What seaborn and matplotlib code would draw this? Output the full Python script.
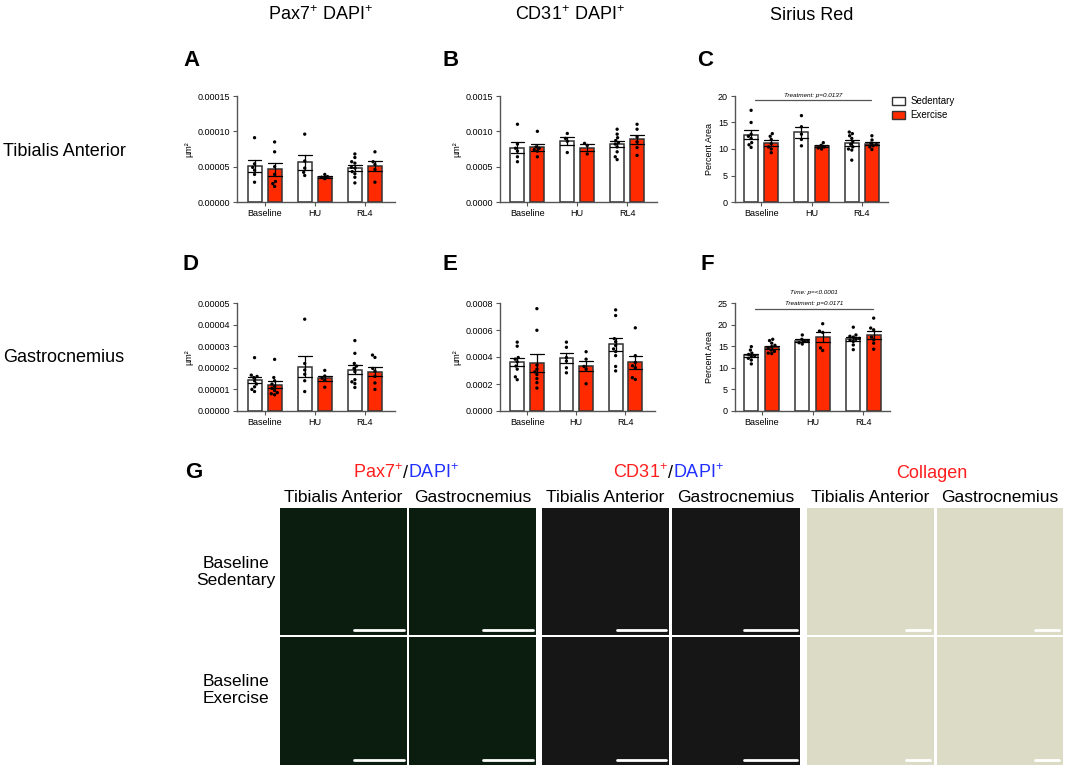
import matplotlib
matplotlib.use("Agg")
import numpy as np
import pandas as pd
import matplotlib.pyplot as plt
import seaborn as sns
from matplotlib.patches import Patch

groups = ["Baseline", "HU", "RL4"]
conditions = ["Sedentary", "Exercise"]
bar_colors = {"Sedentary": "white", "Exercise": "#FF2A00"}

# Pax7+ DAPI+ tibialis anterior, in 1e-5 um^2 (one list per group)
pax7_ta_sed = [[9.1, 5.4, 4.9, 4.5, 3.9, 2.8], [9.6, 5.8, 4.8, 4.2, 3.75],
               [6.8, 6.3, 5.7, 5.5, 4.8, 4.9, 4.3, 4.0, 3.5, 2.7]]
pax7_ta_ex = [[8.5, 7.1, 5.0, 3.9, 2.9, 2.6, 2.2], [3.9, 3.6, 3.5, 3.3],
              [7.1, 5.7, 5.3, 4.6, 2.8]]
# CD31+ DAPI+ tibialis anterior, in 1e-4 um^2
cd31_ta_sed = [[11.0, 8.2, 7.6, 7.2, 6.4, 5.7], [9.7, 9.0, 8.6, 7.0],
               [10.3, 9.6, 9.1, 8.7, 8.4, 8.2, 7.8, 7.1, 6.4, 6.0]]
cd31_ta_ex = [[10.0, 7.8, 7.6, 7.4, 7.2, 6.4], [8.3, 8.0, 6.8],
              [11.0, 10.3, 9.2, 8.5, 7.7, 6.6]]
# Sirius red tibialis anterior, percent area
sirius_ta_sed = [[17.3, 15.0, 12.8, 12.4, 12.0, 11.2, 10.8, 10.3], [16.3, 14.2, 12.8, 11.8, 10.6],
                 [13.2, 12.9, 12.5, 12.0, 11.4, 10.9, 10.4, 10.0, 9.8, 7.9]]
sirius_ta_ex = [[12.9, 12.4, 11.8, 11.0, 10.4, 10.0, 9.3], [11.2, 10.7, 10.4, 10.2, 10.0],
                [12.5, 11.7, 11.1, 10.8, 10.6, 10.4, 9.9]]
# Pax7+ DAPI+ gastrocnemius, in 1e-5 um^2
pax7_gas_sed = [[2.47, 1.66, 1.60, 1.55, 1.40, 1.25, 1.12, 1.00, 0.90], [4.25, 2.2, 1.9, 1.7, 1.4, 0.9],
                [3.26, 2.67, 2.2, 2.08, 1.97, 1.82, 1.45, 1.35, 1.27, 1.09]]
pax7_gas_ex = [[2.39, 1.55, 1.40, 1.25, 1.15, 1.05, 0.95, 0.85, 0.80, 0.75], [1.88, 1.62, 1.52, 1.42, 1.10],
               [2.59, 2.48, 1.97, 1.85, 1.6, 1.3, 1.0]]
# CD31+ DAPI+ gastrocnemius, in 1e-4 um^2
cd31_gas_sed = [[5.1, 4.8, 3.96, 3.84, 3.64, 3.33, 3.1, 2.53, 2.32], [5.1, 4.72, 3.96, 3.7, 3.2, 2.83],
                [7.49, 7.07, 5.36, 5.13, 4.85, 4.6, 4.4, 4.1, 3.3, 2.97]]
cd31_gas_ex = [[7.58, 5.98, 3.4, 3.1, 2.9, 2.7, 2.4, 2.1, 1.7], [4.39, 3.84, 3.3, 3.1, 2.02],
               [6.16, 4.1, 3.6, 3.35, 3.2, 2.47, 2.34]]
# Sirius red gastrocnemius, percent area
sirius_gas_sed = [[14.9, 14.1, 13.4, 13.1, 12.8, 12.6, 12.2, 11.8, 10.9], [17.6, 16.6, 16.3, 16.1, 15.8, 15.5],
                  [19.4, 17.6, 17.3, 17.1, 16.8, 16.6, 16.4, 16.1, 15.3, 14.2]]
sirius_gas_ex = [[16.6, 16.3, 15.7, 15.2, 14.9, 14.5, 14.1, 13.8, 13.4, 13.3], [20.2, 18.5, 18.2, 14.6, 14.0],
                 [21.5, 19.2, 18.8, 17.1, 16.5, 15.7, 14.3]]

W, H = 1065, 767

sns.set_style("ticks")
plt.rcParams["font.family"] = ["Liberation Sans", "DejaVu Sans"]
plt.rcParams["mathtext.fontset"] = "custom"
plt.rcParams["mathtext.rm"] = "Liberation Sans"
plt.rcParams["mathtext.it"] = "Liberation Sans:italic"
plt.rcParams["mathtext.bf"] = "Liberation Sans:bold"
plt.rcParams["text.color"] = "black"
plt.rcParams["axes.labelcolor"] = "black"
plt.rcParams["xtick.labelcolor"] = "black"
plt.rcParams["ytick.labelcolor"] = "black"

fig = plt.figure(figsize=(W / 100, H / 100), dpi=100)


def px_axes(x0, x1, y0, y1):
    # axes from pixel box (top-left origin)
    return fig.add_axes([x0 / W, 1 - y1 / H, (x1 - x0) / W, (y1 - y0) / H])


def long_table(sed, ex, scale=1.0):
    rows = []
    for cond, lists in zip(conditions, [sed, ex]):
        for g, vals in zip(groups, lists):
            for v in vals:
                rows.append((g, cond, v * scale))
    return pd.DataFrame(rows, columns=["group", "condition", "value"])


def bar_panel(ax, df, ymax, step, fmt, ylabel, xlim):
    sns.barplot(data=df, x="group", y="value", hue="condition", order=groups,
                hue_order=conditions, palette=bar_colors, saturation=1, errorbar="se",
                capsize=0.55, err_kws={"color": "black", "linewidth": 0.9}, width=0.8, gap=0.3,
                edgecolor="#333333", linewidth=1.1, ax=ax, legend=False)
    sns.swarmplot(data=df, x="group", y="value", hue="condition", order=groups,
                  hue_order=conditions, dodge=True,
                  palette={"Sedentary": "black", "Exercise": "black"},
                  size=2.4, ax=ax, legend=False, zorder=4)
    ax.set_xlim(*xlim)
    ax.set_ylim(0, ymax)
    ticks = np.arange(0, ymax + step / 2, step)
    ax.set_yticks(ticks)
    ax.set_yticklabels([fmt.format(t) for t in ticks])
    ax.set_xlabel("")
    ax.set_ylabel(ylabel, fontsize=6.5, labelpad=3)
    for s in ["top", "right"]:
        ax.spines[s].set_visible(False)
    for s in ["left", "bottom"]:
        ax.spines[s].set_color("#555555")
        ax.spines[s].set_linewidth(1.0)
    ax.spines["left"].set_bounds(0, ymax)
    ax.tick_params(axis="both", labelsize=6.5, length=3, width=0.8, color="#555555", pad=2)
    ax.set_facecolor("none")


def stat_line(ax, y, labels, label_y):
    ax.plot([-0.12, 2.18], [y, y], color="#555555", lw=0.9, clip_on=False)
    for txt, ly in zip(labels, label_y):
        ax.text(1.03, ly, txt, fontsize=4.6, style="italic", ha="center", va="bottom", clip_on=False)


# top row: tibialis anterior
axA = px_axes(237, 395, 96, 202)
bar_panel(axA, long_table(pax7_ta_sed, pax7_ta_ex, 1e-5), 0.00015, 0.00005, "{:.5f}", "µm²", (-0.55, 2.6))
axB = px_axes(500, 657, 96, 202)
bar_panel(axB, long_table(cd31_ta_sed, cd31_ta_ex, 1e-4), 0.0015, 0.0005, "{:.4f}", "µm²", (-0.55, 2.6))
axC = px_axes(735, 888, 96, 202)
bar_panel(axC, long_table(sirius_ta_sed, sirius_ta_ex), 20, 5, "{:.0f}", "Percent Area", (-0.52, 2.52))
stat_line(axC, 19.2, ["Treatment: p=0.0137"], [19.6])

# bottom row: gastrocnemius
axD = px_axes(237, 395, 303, 411)
bar_panel(axD, long_table(pax7_gas_sed, pax7_gas_ex, 1e-5), 0.00005, 0.00001, "{:.5f}", "µm²", (-0.55, 2.6))
axE = px_axes(500, 655, 303, 411)
bar_panel(axE, long_table(cd31_gas_sed, cd31_gas_ex, 1e-4), 0.0008, 0.0002, "{:.4f}", "µm²", (-0.55, 2.6))
axF = px_axes(735, 890, 303, 411)
bar_panel(axF, long_table(sirius_gas_sed, sirius_gas_ex), 25, 5, "{:.0f}", "Percent Area", (-0.52, 2.52))
stat_line(axF, 23.7, ["Treatment: p=0.0171", "Time: p=<0.0001"], [24.3, 26.9])

legend_handles = [Patch(facecolor=bar_colors[c], edgecolor="#333333", linewidth=1.0, label=c)
                  for c in conditions]
fig.legend(handles=legend_handles, loc="upper left", bbox_to_anchor=(888 / W, 1 - 92 / H),
           frameon=False, fontsize=7, handlelength=1.3, handleheight=0.9, labelspacing=0.45,
           handletextpad=0.6, borderaxespad=0)


def ftext(x, y, s, **kw):
    return fig.text(x / W, 1 - y / H, s, **kw)


# column titles and row labels
ftext(320, 15, r"Pax7$^{+}$ DAPI$^{+}$", fontsize=13, ha="center", va="center")
ftext(570, 15, r"CD31$^{+}$ DAPI$^{+}$", fontsize=13, ha="center", va="center")
ftext(812, 15, "Sirius Red", fontsize=13, ha="center", va="center")
ftext(3, 152, "Tibialis Anterior", fontsize=13, ha="left", va="center")
ftext(3, 358, "Gastrocnemius", fontsize=13, ha="left", va="center")

for letter, (x, y) in zip("ABCDEFG", [(183, 60), (442, 60), (697, 60), (183, 265),
                                       (443, 265), (700, 265), (185, 473)]):
    ftext(x, y, letter, fontsize=16, weight="bold", ha="left", va="center")


def multicolor_text(x_center, y, parts, **kw):
    texts = [ftext(0, y, s, color=c, ha="left", va="center", **kw) for s, c in parts]
    fig.canvas.draw()
    r = fig.canvas.get_renderer()
    widths = [t.get_window_extent(r).width / fig.bbox.width for t in texts]
    x = x_center / W - sum(widths) / 2
    for t, w in zip(texts, widths):
        t.set_x(x)
        x += w


red, blue = "#FF1E1E", "#2030FF"
multicolor_text(406, 473, [(r"Pax7$^{+}$", red), ("/", "black"), (r"DAPI$^{+}$", blue)], fontsize=13)
multicolor_text(668, 473, [(r"CD31$^{+}$", red), ("/", "black"), (r"DAPI$^{+}$", blue)], fontsize=13)
ftext(932, 473, "Collagen", color=red, fontsize=13, ha="center", va="center")

# panel G: micrograph tiles as plain placeholders
tile_cols = [(280, 407), (409, 536), (542, 669), (672, 800), (807, 934), (937, 1063)]
tile_rows = [(508, 635), (637, 765)]
tile_faces = ["#0b1d0f", "#0b1d0f", "#161616", "#161616", "#dcdcc6", "#dcdcc6"]
scale_bars = [(0.58, 0.98), (0.58, 0.98), (0.59, 0.98), (0.56, 0.98), (0.78, 0.97), (0.78, 0.97)]
muscles = ["Tibialis Anterior", "Gastrocnemius"]

for i, (x0, x1) in enumerate(tile_cols):
    ftext((x0 + x1) / 2, 497, muscles[i % 2], fontsize=12.5, ha="center", va="center")
    for y0, y1 in tile_rows:
        ax = px_axes(x0, x1, y0, y1)
        ax.set_facecolor(tile_faces[i])
        ax.set_xticks([])
        ax.set_yticks([])
        for s in ax.spines.values():
            s.set_visible(False)
        ax.plot(scale_bars[i], [0.04, 0.04], color="white", lw=2, transform=ax.transAxes)

ftext(236, 572, "Baseline\nSedentary", fontsize=12.5, ha="center", va="center", linespacing=1.15)
ftext(236, 690, "Baseline\nExercise", fontsize=12.5, ha="center", va="center", linespacing=1.15)

fig.savefig("out.png", dpi=100)
